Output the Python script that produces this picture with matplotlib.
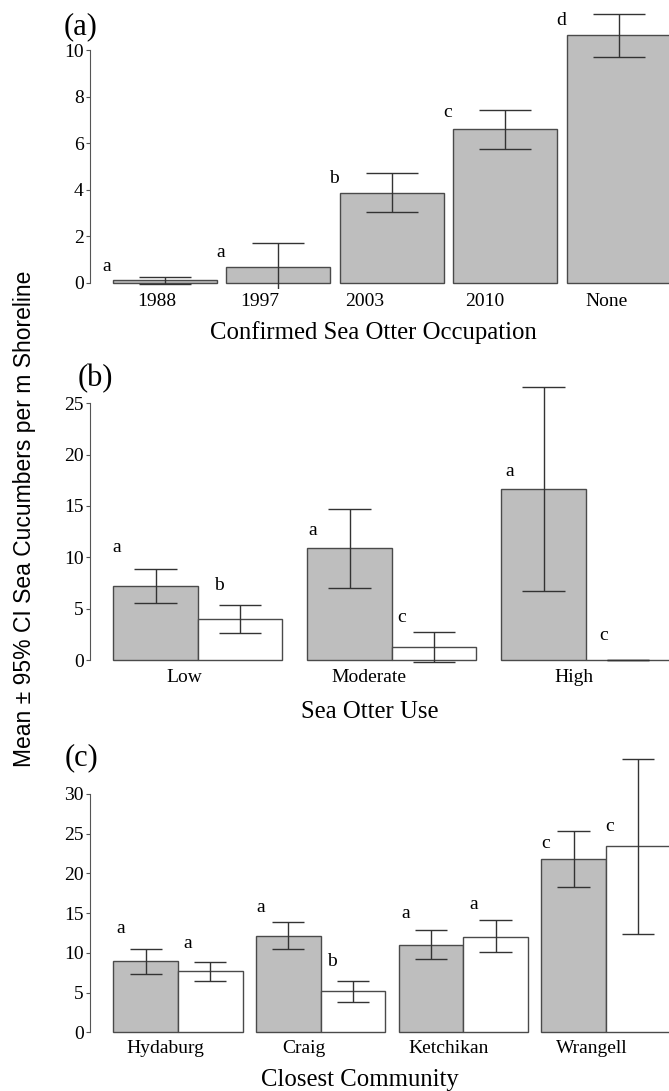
import numpy as np
import matplotlib.pyplot as plt

# panel (a) - confirmed sea otter occupation
occupation = ['1988', '1997', '2003', '2010', 'None']
occ_mean = [0.10, 0.69, 3.87, 6.59, 10.63]
occ_lo = [-0.06, -0.30, 3.04, 5.73, 9.71]
occ_hi = [0.26, 1.72, 4.71, 7.43, 11.53]
occ_letters = ['a', 'a', 'b', 'c', 'd']
occ_letter_y = [0.69, 1.32, 4.49, 7.30, 11.26]

# panel (b) - sea otter use (grey / white pairs)
use_levels = ['Low', 'Moderate', 'High']
use_grey_mean = [7.24, 10.88, 16.65]
use_grey_lo = [5.58, 6.98, 6.69]
use_grey_hi = [8.86, 14.70, 26.60]
use_white_mean = [3.99, 1.24, 0.0]
use_white_lo = [2.66, -0.23, 0.0]
use_white_hi = [5.39, 2.76, 0.0]
use_letters = ['a', 'b', 'a', 'c', 'a', 'c']
use_letter_y = [10.97, 7.24, 12.66, 4.16, 18.37, 2.37]
use_letter_x = [-0.42, 0.11, 0.59, 1.05, 1.61, 2.09]

# panel (c) - closest community
community = ['Hydaburg', 'Craig', 'Ketchikan', 'Wrangell']
com_grey_mean = [8.94, 12.12, 11.03, 21.82]
com_grey_lo = [7.38, 10.45, 9.23, 18.25]
com_grey_hi = [10.53, 13.89, 12.84, 25.30]
com_white_mean = [7.68, 5.16, 12.04, 23.41]
com_white_lo = [6.50, 3.81, 10.07, 12.37]
com_white_hi = [8.81, 6.50, 14.10, 34.40]
com_letters = ['a', 'a', 'a', 'b', 'a', 'a', 'c', 'c']
com_letter_y = [13.13, 11.24, 15.74, 8.94, 15.02, 16.15, 23.83, 25.85]
com_letter_x = [-0.40, 0.07, 0.58, 1.08, 1.60, 2.07, 2.58, 3.03]

plt.rcParams['font.family'] = ['Liberation Serif', 'DejaVu Serif']

W, H = 669, 1091
fig = plt.figure(figsize=(W / 100, H / 100), dpi=100)

GREY = '#bebebe'
EDGE = '#4a4a4a'
ERR = '#333333'
TICK_FS = 14
LET_FS = 14


def px_axes(left, top, bottom):
    return fig.add_axes([left / W, 1 - bottom / H, 1 - left / W, (bottom - top) / H])


def draw_bars(ax, x, mean, lo, hi, width, color):
    ax.bar(x, mean, width=width, color=color, edgecolor=EDGE, linewidth=1.0, zorder=2)
    x = np.asarray(x)
    ax.vlines(x, lo, hi, color=ERR, linewidth=1.0, zorder=3)
    ax.hlines(lo, x - width / 4, x + width / 4, color=ERR, linewidth=1.0, zorder=3)
    ax.hlines(hi, x - width / 4, x + width / 4, color=ERR, linewidth=1.0, zorder=3)


def style_axis(ax, top_tick, step):
    for s in ['top', 'right', 'bottom']:
        ax.spines[s].set_visible(False)
    ax.spines['left'].set_bounds(0, top_tick)
    ax.spines['left'].set_color('#555555')
    ax.set_yticks(np.arange(0, top_tick + 0.1, step))
    ax.tick_params(axis='y', length=3, pad=1.5, labelsize=TICK_FS, color='#555555')
    ax.set_xticks([])


def cat_labels(ax, pos, labels, off):
    for p, lab in zip(pos, labels):
        ax.annotate(lab, (p, 0), xytext=(0, -off), textcoords='offset pixels',
                    ha='center', va='center', fontsize=TICK_FS)


# ---- (a)
ax1 = px_axes(90, 3.5, 289.0)
xa = np.arange(len(occupation))
wa = 104 / 113.4
draw_bars(ax1, xa, occ_mean, occ_lo, occ_hi, wa, GREY)
ax1.set_xlim(-0.661, 4.444)
ax1.set_ylim(-0.27, 12)
style_axis(ax1, 10, 2)
for i, (t, y) in enumerate(zip(occ_letters, occ_letter_y)):
    ax1.text(i - 0.51, y, t, ha='center', va='center', fontsize=LET_FS)
cat_labels(ax1, [-0.07, 0.84, 1.76, 2.82, 3.89], occupation, 19)

# ---- (b)
ax2 = px_axes(90, 377.6, 666.2)
gb = np.arange(len(use_levels))
wb = 84.5 / 194
draw_bars(ax2, gb - wb / 2, use_grey_mean, use_grey_lo, use_grey_hi, wb, GREY)
draw_bars(ax2, gb + wb / 2, use_white_mean, use_white_lo, use_white_hi, wb, 'white')
ax2.set_xlim(-0.556, 2.429)
ax2.set_ylim(-0.6, 27.5)
style_axis(ax2, 25, 5)
for t, x, y in zip(use_letters, use_letter_x, use_letter_y):
    ax2.text(x, y, t, ha='center', va='center', fontsize=LET_FS)
cat_labels(ax2, [-0.07, 0.88, 1.94], use_levels, 17)

# ---- (c)
ax3 = px_axes(90, 750.3, 1036.3)
gc = np.arange(len(community))
wc = 64.6 / 142.6
draw_bars(ax3, gc - wc / 2, com_grey_mean, com_grey_lo, com_grey_hi, wc, GREY)
draw_bars(ax3, gc + wc / 2, com_white_mean, com_white_lo, com_white_hi, wc, 'white')
ax3.set_xlim(-0.617, 3.443)
ax3.set_ylim(-0.5, 35.5)
style_axis(ax3, 30, 5)
for t, x, y in zip(com_letters, com_letter_x, com_letter_y):
    ax3.text(x, y, t, ha='center', va='center', fontsize=LET_FS)
cat_labels(ax3, [-0.09, 0.88, 1.90, 2.90], community, 16)

# titles and panel tags (figure pixel positions)
def ftext(px, py, s, **kw):
    fig.text(px / W, 1 - py / H, s, ha='center', va='center', **kw)

ftext(373, 333, 'Confirmed Sea Otter Occupation', fontsize=17.8)
ftext(370, 712, 'Sea Otter Use', fontsize=17.8)
ftext(360, 1080, 'Closest Community', fontsize=17.8)
ftext(81, 27, '(a)', fontsize=22)
ftext(95, 379, '(b)', fontsize=22)
ftext(81, 758, '(c)', fontsize=22)
ftext(25, 519, 'Mean \u00b1 95% CI Sea Cucumbers per m Shoreline', fontsize=16.5,
      rotation=90, family=['Liberation Sans', 'DejaVu Sans'])

fig.savefig('out.png', dpi=100)
